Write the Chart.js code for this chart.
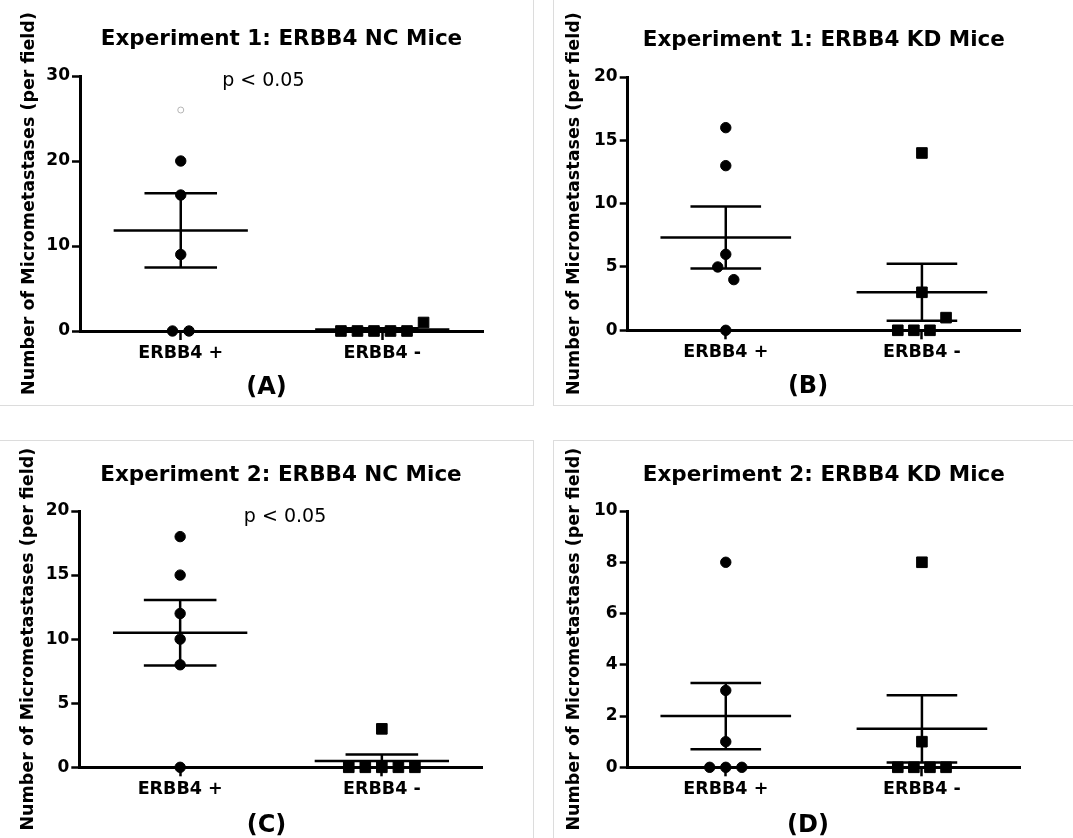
<!DOCTYPE html>
<html><head><meta charset="utf-8">
<script src="https://cdn.jsdelivr.net/npm/chart.js@4.4.1/dist/chart.umd.min.js"></script>
<style>
html,body{margin:0;padding:0;background:#fff;width:1073px;height:838px;overflow:hidden;position:relative}
.panel{position:absolute;overflow:hidden;background:#fff}
#pA{left:0;top:0;width:533px;height:405px;border-right:1px solid #dcdcdc;border-bottom:1px solid #dcdcdc}
#pB{left:553px;top:0;width:519px;height:405px;border-left:1px solid #dcdcdc;border-bottom:1px solid #dcdcdc}
#pC{left:0;top:440px;width:533px;height:398px;border-top:1px solid #dcdcdc;border-right:1px solid #dcdcdc}
#pD{left:553px;top:440px;width:519px;height:398px;border-top:1px solid #dcdcdc;border-left:1px solid #dcdcdc}
canvas{display:block}
</style></head>
<body>
<div class="panel" id="pA"><canvas id="cA" width="533" height="405"></canvas></div>
<div class="panel" id="pB"><canvas id="cB" width="519" height="405"></canvas></div>
<div class="panel" id="pC"><canvas id="cC" width="533" height="405"></canvas></div>
<div class="panel" id="pD"><canvas id="cD" width="519" height="405"></canvas></div>
<script>
// ---------- data ----------
const categories = ['ERBB4 +', 'ERBB4 -'];
const yAxisTitle = 'Number of Micrometastases (per field)';
const pText = 'p < 0.05';

const titleA = 'Experiment 1: ERBB4 NC Mice';
const titleB = 'Experiment 1: ERBB4 KD Mice';
const titleC = 'Experiment 2: ERBB4 NC Mice';
const titleD = 'Experiment 2: ERBB4 KD Mice';
const labelA = '(A)', labelB = '(B)', labelC = '(C)', labelD = '(D)';

const yTicksA = [0, 10, 20, 30];
const yTicksB = [0, 5, 10, 15, 20];
const yTicksC = [0, 5, 10, 15, 20];
const yTicksD = [0, 2, 4, 6, 8, 10];

// Experiment 1, NC mice
const exp1NcPos = [26, 20, 16, 9, 0, 0];
const exp1NcPosJitter = [0, 0, 0, 0, -0.5, 0.5];
const exp1NcNeg = [1, 0, 0, 0, 0, 0];
const exp1NcNegJitter = [2.5, -2.5, -1.5, -0.5, 0.5, 1.5];
// Experiment 1, KD mice
const exp1KdPos = [16, 13, 6, 5, 4, 0];
const exp1KdPosJitter = [0, 0, 0, -0.5, 0.5, 0];
const exp1KdNeg = [14, 3, 1, 0, 0, 0];
const exp1KdNegJitter = [0, 0, 1.5, -1.5, -0.5, 0.5];
// Experiment 2, NC mice
const exp2NcPos = [18, 15, 12, 10, 8, 0];
const exp2NcPosJitter = [0, 0, 0, 0, 0, 0];
const exp2NcNeg = [3, 0, 0, 0, 0, 0];
const exp2NcNegJitter = [0, -2, -1, 0, 1, 2];
// Experiment 2, KD mice
const exp2KdPos = [8, 3, 1, 0, 0, 0];
const exp2KdPosJitter = [0, 0, 0, -1, 0, 1];
const exp2KdNeg = [8, 1, 0, 0, 0, 0];
const exp2KdNegJitter = [0, 0, -1.5, -0.5, 0.5, 1.5];

// ---------- helpers ----------
const FONT = 'DejaVu Sans';
Chart.defaults.font.family = FONT;
Chart.defaults.color = '#000';
const SLOT = 0.082, MEAN_HW = 0.333, CAP_HW = 0.18;

function mean(a){ return a.reduce((s,v)=>s+v,0)/a.length; }
function sem(a){ const m=mean(a); const v=a.reduce((s,x)=>s+(x-m)*(x-m),0)/(a.length-1); return Math.sqrt(v/a.length); }

function lineDs(pts){
  return {data: pts, showLine: true, borderColor: '#000', borderWidth: 2.5, pointRadius: 0, fill: false, clip: false, order: 1};
}
function groupDatasets(vals, jit, c, style, faint){
  const m = mean(vals), s = sem(vals);
  const fs = new Set(faint || []);
  const base = style === 'rect' ? 7.5 : 5.2;
  return [
    {data: vals.map((v,i)=>({x: c + jit[i]*SLOT, y: v})), pointStyle: style,
     pointRadius: ctx => fs.has(ctx.dataIndex) ? 3 : base,
     pointBackgroundColor: ctx => fs.has(ctx.dataIndex) ? 'rgba(0,0,0,0)' : '#000',
     pointBorderColor: ctx => fs.has(ctx.dataIndex) ? '#b5b5b5' : '#000',
     pointBorderWidth: 1, showLine: false, clip: false, order: 0},
    lineDs([{x:c-MEAN_HW,y:m},{x:c+MEAN_HW,y:m}]),
    lineDs([{x:c,y:m-s},{x:c,y:m+s}]),
    lineDs([{x:c-CAP_HW,y:m+s},{x:c+CAP_HW,y:m+s}]),
    lineDs([{x:c-CAP_HW,y:m-s},{x:c+CAP_HW,y:m-s}])
  ];
}

const pValuePlugin = {
  id: 'pValue',
  afterDatasetsDraw(chart, args, opts){
    if (!opts || !opts.text) return;
    const {ctx} = chart; const xs = chart.scales.x, ys = chart.scales.y;
    ctx.save();
    ctx.font = opts.font; ctx.fillStyle = '#000';
    ctx.textAlign = 'center'; ctx.textBaseline = 'middle';
    ctx.fillText(opts.text, xs.getPixelForValue(opts.x), ys.getPixelForValue(opts.y));
    ctx.restore();
  }
};

function makeChart(id, p){
  const datasets = [
    ...groupDatasets(p.pos, p.posJit, 1, 'circle', p.faint),
    ...groupDatasets(p.neg, p.negJit, 2, 'rect', [])
  ];
  return new Chart(document.getElementById(id), {
    type: 'scatter',
    data: {datasets},
    plugins: [pValuePlugin],
    options: {
      responsive: false, animation: false, devicePixelRatio: 1,
      layout: {padding: {left: 0, top: 0, right: p.padR, bottom: p.padB}},
      plugins: {
        legend: {display: false}, tooltip: {enabled: false},
        title: {display: true, text: p.title, fullSize: false, color: '#000',
          font: {family: FONT, size: 21.5, weight: 'bold'}, padding: p.titlePad},
        subtitle: {display: true, text: p.label, position: 'bottom', color: '#000',
          font: {family: FONT, size: 24, weight: 'bold'}, padding: p.subPad},
        pValue: p.pval ? {text: pText, x: p.pval.x, y: p.pval.y, font: '19px "' + FONT + '"'} : {text: ''}
      },
      scales: {
        x: {type: 'linear', min: 0.5, max: 2.5,
          afterBuildTicks: s => { s.ticks = [{value: 1}, {value: 2}]; },
          ticks: {callback: v => categories[Math.round(v) - 1], color: '#000', padding: 3, maxRotation: 0,
            font: {family: FONT, size: 17.5, weight: 'bold'}},
          grid: {display: true, drawOnChartArea: false, drawTicks: true, tickLength: 9, tickColor: '#000', tickWidth: 2.5},
          border: {display: true, color: '#000', width: 3}
        },
        y: {type: 'linear', position: 'left', min: 0, max: p.yTicks[p.yTicks.length-1],
          afterBuildTicks: s => { s.ticks = p.yTicks.map(v => ({value: v})); },
          afterFit: s => { s.width = p.yW; },
          ticks: {color: '#000', padding: 2, font: {family: FONT, size: 17, weight: 'bold'}},
          grid: {display: true, drawOnChartArea: false, drawTicks: true, tickLength: 8, tickColor: '#000', tickWidth: 2.5},
          border: {display: true, color: '#000', width: 3},
          title: {display: true, text: yAxisTitle, color: '#000', padding: {top: p.yTitlePad, bottom: 0},
            font: {family: FONT, size: 17.5, weight: 'bold'}}
        },
        yR: {type: 'linear', position: 'right', display: true,
          ticks: {display: false}, grid: {display: false}, border: {display: false},
          afterFit: s => { s.width = p.rightW; }
        }
      }
    }
  });
}

makeChart('cA', {pos: exp1NcPos, posJit: exp1NcPosJitter, neg: exp1NcNeg, negJit: exp1NcNegJitter, faint: [0],
  title: titleA, label: labelA, yTicks: yTicksA, yW: 80, yTitlePad: 18.5, rightW: 50, padR: 0, padB: 0,
  titlePad: {top: 26.3, bottom: 23.9}, subPad: {top: 6.1, bottom: 3.1}, pval: {x: 1.41, y: 29.4}});
makeChart('cB', {pos: exp1KdPos, posJit: exp1KdPosJitter, neg: exp1KdNeg, negJit: exp1KdNegJitter,
  title: titleB, label: labelB, yTicks: yTicksB, yW: 73.7, yTitlePad: 10, rightW: 42, padR: 11, padB: 0.7,
  titlePad: {top: 27.9, bottom: 23.3}, subPad: {top: 6.1, bottom: 3.1}, pval: null});
makeChart('cC', {pos: exp2NcPos, posJit: exp2NcPosJitter, neg: exp2NcNeg, negJit: exp2NcNegJitter,
  title: titleC, label: labelC, yTicks: yTicksC, yW: 79.3, yTitlePad: 17.8, rightW: 50.3, padR: 0, padB: 3,
  titlePad: {top: 21.9, bottom: 22.3}, subPad: {top: 7.8, bottom: 3.1}, pval: {x: 1.52, y: 19.55}});
makeChart('cD', {pos: exp2KdPos, posJit: exp2KdPosJitter, neg: exp2KdNeg, negJit: exp2KdNegJitter,
  title: titleD, label: labelD, yTicks: yTicksD, yW: 73.7, yTitlePad: 10, rightW: 42, padR: 11, padB: 3,
  titlePad: {top: 21.9, bottom: 22.3}, subPad: {top: 7.8, bottom: 3.1}, pval: null});
</script>
</body></html>
